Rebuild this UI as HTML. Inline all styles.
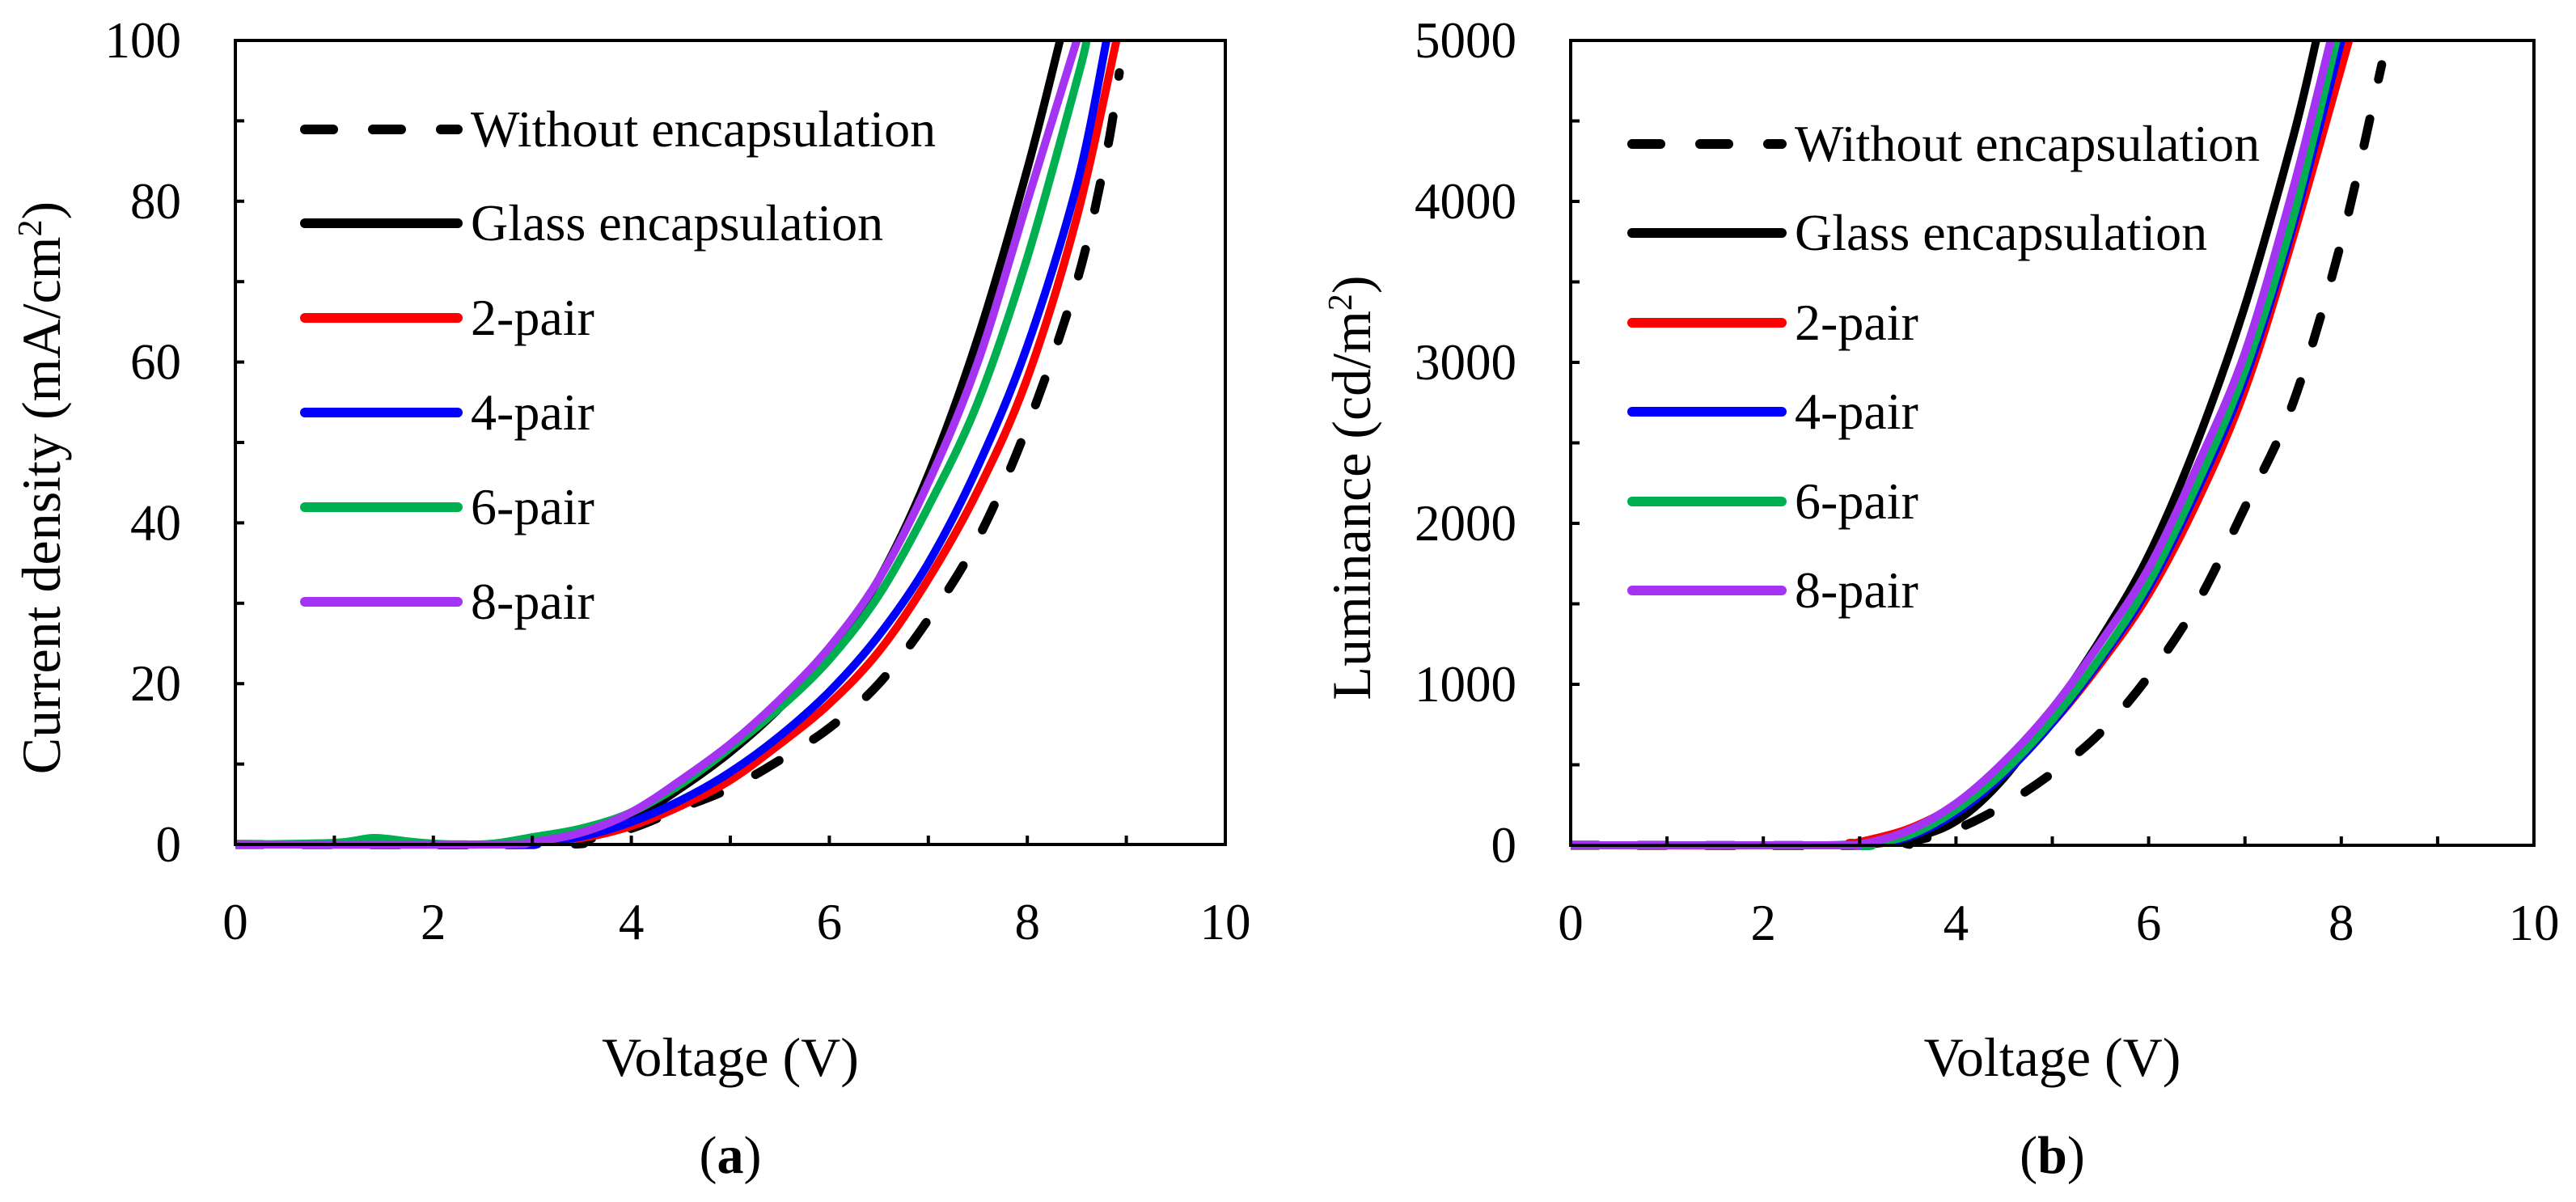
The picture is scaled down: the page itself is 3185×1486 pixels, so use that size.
<!DOCTYPE html>
<html><head><meta charset="utf-8"><style>
html,body{margin:0;padding:0;background:#fff;}
svg{display:block;}
text{font-family:"Liberation Serif",serif;fill:#000;}
</style></head><body>
<svg id="fig" width="3185" height="1486" viewBox="0 0 3185 1486" xmlns="http://www.w3.org/2000/svg"></svg>
<script>
// ---------- Data: panel (a) current density ----------
const jWithoutV = [0,3.2,3.5,4,4.5,5,5.5,6,6.5,7,7.5,8,8.5,8.8,8.93];
const jWithout  = [0,0,0.5,2,4.5,7,10.5,14.5,20,28,38,52,70,86,96];
const jGlassV = [0,2.7,3,3.5,4,4.5,5,5.5,6,6.5,7,7.5,8,8.33];
const jGlass  = [0,0,0.2,1.2,3.2,7,11.5,17,24,33,46,63,84,100];
const j2V = [0,2.8,3,3.5,4,4.5,5,5.5,6,6.5,7,7.5,8,8.5,8.9];
const j2  = [0,0,0.2,0.8,2.3,4.8,8,12.5,17.5,24,33,44,58,78,100];
const j4V = [0,2.8,3,3.5,4,4.5,5,5.5,6,6.5,7,7.5,8,8.5,8.8];
const j4  = [0,0,0.2,1,2.8,5.5,9,13.5,19,26,35,47,62,82,100];
const j6V = [0,1,1.4,1.8,2.2,2.6,3,3.5,4,4.5,5,5.5,6,6.5,7,7.5,8,8.5,8.6];
const j6  = [0,0.2,0.8,0.3,0,0.1,0.9,2,4,7.5,12,17,23,31,42,55,73,95,100];
const j8V = [0,2.6,3,3.5,4,4.5,5,5.5,6,6.5,7,7.5,8,8.5];
const j8  = [0,0,0.3,1.5,4,8,12.5,18,24.5,33,45,60,80,100];
// ---------- Data: panel (b) luminance ----------
const lWithoutV = [0,3.2,3.5,4,4.5,5,5.5,6,6.5,7,7.5,8,8.42];
const lWithout  = [0,0,20,100,250,450,700,1050,1500,2100,2750,3750,4850];
const lGlassV = [0,2.9,3,3.5,4,4.5,5,5.5,6,6.5,7,7.5,7.74];
const lGlass  = [0,0,0,40,150,420,830,1280,1800,2500,3350,4400,5000];
const l2V = [0,2.6,2.9,3,3.5,4,4.5,5,5.5,6,6.5,7,7.5,8.08];
const l2  = [0,0,15,20,100,250,470,760,1130,1560,2130,2830,3780,5000];
const l4V = [0,2.9,3,3.5,4,4.5,5,5.5,6,6.5,7,7.5,8.0];
const l4  = [0,0,0,50,200,440,760,1150,1600,2200,2900,3850,5000];
const l6V = [0,2.9,3,3.5,4,4.5,5,5.5,6,6.5,7,7.5,7.95];
const l6  = [0,0,0,60,220,460,780,1170,1630,2240,2950,3900,5000];
const l8V = [0,2.7,3,3.5,4,4.5,5,5.5,6,6.5,7,7.5,7.89];
const l8  = [0,0,5,90,260,520,850,1260,1720,2350,3060,4080,5000];
const xTicks = [0,2,4,6,8,10];
const jTicks = [0,20,40,60,80,100];
const lTicks = [0,1000,2000,3000,4000,5000];
const legendLabels = ["Without encapsulation","Glass encapsulation","2-pair","4-pair","6-pair","8-pair"];

const NS="http://www.w3.org/2000/svg";
const svg=document.getElementById('fig');
function mk(tag,attrs,parent){const e=document.createElementNS(NS,tag);for(const k in attrs)e.setAttribute(k,attrs[k]);(parent||svg).appendChild(e);return e;}
function smooth(pts){
  let d="M"+pts[0][0].toFixed(1)+","+pts[0][1].toFixed(1);
  for(let i=0;i<pts.length-1;i++){
    const p0=pts[Math.max(0,i-1)],p1=pts[i],p2=pts[i+1],p3=pts[Math.min(pts.length-1,i+2)];
    const c1=[p1[0]+(p2[0]-p0[0])/6,p1[1]+(p2[1]-p0[1])/6];
    const c2=[p2[0]-(p3[0]-p1[0])/6,p2[1]-(p3[1]-p1[1])/6];
    d+=" C"+c1[0].toFixed(1)+","+c1[1].toFixed(1)+" "+c2[0].toFixed(1)+","+c2[1].toFixed(1)+" "+p2[0].toFixed(1)+","+p2[1].toFixed(1);
  }
  return d;
}
const colors=["#000","#000","#ff0000","#0000ff","#00b050","#a434f2"];

function panel(cfg){
  const g=mk('g',{});
  
  
  const {L,R,T,B,ymax}=cfg;
  const sx=v=>L+(v/10)*(R-L);
  const sy=v=>B-(v/ymax)*(B-T);
  const clip=mk('clipPath',{id:cfg.name+'-clip'},g);
  mk('rect',{x:L,y:T-2,width:R-L,height:B-T+20},clip);
  const sg=mk('g',{'clip-path':'url(#'+cfg.name+'-clip)'},g);
  
  
  cfg.series.forEach((s,i)=>{
    const pts=s.v.map((v,k)=>[sx(v),sy(s.y[k])]);
    const p=mk('path',{d:smooth(pts),fill:'none',stroke:colors[i],'stroke-width':i==0?11:10,'stroke-linejoin':'round','stroke-dasharray':i==0?'34 50':'none','stroke-linecap':i==0?'round':'butt'},sg);
    
    
  });
  const fr=mk('rect',{x:L,y:T,width:R-L,height:B-T,fill:'none',stroke:'#000','stroke-width':4},g);
  
  
  for(let v=1;v<10;v++){
    const t=mk('line',{x1:sx(v),x2:sx(v),y1:B,y2:B-11,stroke:'#000','stroke-width':4},g);
    
    
  }
  xTicks.forEach(v=>{
    const t=mk('text',{x:sx(v),y:B+117,'font-size':63,'text-anchor':'middle'},g);
    t.textContent=v;
    
    
  });
  for(let k=1;k<10;k++){
    const v=ymax*k/10;
    const t=mk('line',{x1:L,x2:L+11,y1:sy(v),y2:sy(v),stroke:'#000','stroke-width':4},g);
    
    
  }
  cfg.yTicks.forEach(v=>{
    const t=mk('text',{x:cfg.ylabX,y:sy(v)+21,'font-size':63,'text-anchor':'end'},g);
    t.textContent=v;
    
    
  });
  const xt=mk('text',{x:(L+R)/2,y:1330,'font-size':68,'text-anchor':'middle'},g);
  xt.textContent='Voltage (V)';
  
  
  const yt=mk('text',{x:0,y:0,'font-size':68,'text-anchor':'middle',transform:'translate('+(cfg.ytX+23)+',603) rotate(-90)'},g);
  yt.innerHTML=cfg.ytitle;
  
  
  cfg.legY.forEach((y,i)=>{
    const lg=mk('g',{},g);
    
    
    mk('line',{x1:cfg.legX1,x2:cfg.legX2,y1:y,y2:y,stroke:colors[i],'stroke-width':12,'stroke-linecap':'round','stroke-dasharray':i==0?'35 49':'none'},lg);
    const t=mk('text',{x:cfg.legX2+16,y:y+21,'font-size':64},lg);
    t.textContent=legendLabels[i];
  });
  const pl=mk('text',{x:(L+R)/2,y:1450,'font-size':66,'text-anchor':'middle'},g);
  pl.innerHTML='(<tspan font-weight="bold">'+cfg.letter+'</tspan>)';
  
  
}
panel({name:'panel-a-current-density',L:291,R:1515,T:50,B:1044,ymax:100,yTicks:jTicks,ylabX:224,ytX:51,
  ytitle:'Current density (mA/cm<tspan baseline-shift="super" font-size="42">2</tspan>)',letter:'a',
  legY:[160,276,393,510,627,744],legX1:377,legX2:566,
  series:[{key:'without',v:jWithoutV,y:jWithout},{key:'glass',v:jGlassV,y:jGlass},{key:'2-pair',v:j2V,y:j2},{key:'4-pair',v:j4V,y:j4},{key:'6-pair',v:j6V,y:j6},{key:'8-pair',v:j8V,y:j8}]});
panel({name:'panel-b-luminance',L:1942,R:3133,T:50,B:1045,ymax:5000,yTicks:lTicks,ylabX:1875,ytX:1671,
  ytitle:'Luminance (cd/m<tspan baseline-shift="super" font-size="42">2</tspan>)',letter:'b',
  legY:[178,288,399,509,620,730],legX1:2018,legX2:2203,
  series:[{key:'without',v:lWithoutV,y:lWithout},{key:'glass',v:lGlassV,y:lGlass},{key:'2-pair',v:l2V,y:l2},{key:'4-pair',v:l4V,y:l4},{key:'6-pair',v:l6V,y:l6},{key:'8-pair',v:l8V,y:l8}]});
</script>
</body></html>
